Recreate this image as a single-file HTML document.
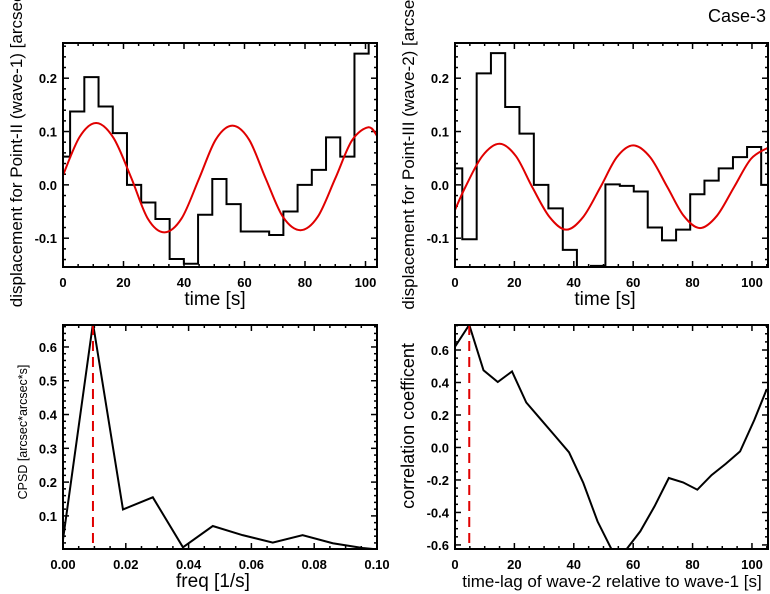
<!DOCTYPE html>
<html><head><meta charset="utf-8"><style>
html,body{margin:0;padding:0;background:#fff;}
svg{display:block;}
text{font-family:"Liberation Sans",sans-serif;}
.tk{font-size:13px;font-weight:bold;fill:#000;}
.ttl{fill:#000;}
</style></head><body>
<svg id="fig" width="770" height="594" viewBox="0 0 770 594" xmlns="http://www.w3.org/2000/svg">
<text x="766" y="22" text-anchor="end" style="font-size:18px">Case-3</text>
</svg>
<script>
// ---- Panel A data (Point-II, wave-1) ----
const aTimes = [0,4.7,9.4,14.1,18.8,23.5,28.2,32.9,37.6,42.3,47.0,51.7,56.4,61.1,65.8,70.5,75.2,79.9,84.6,89.3,94.0,98.7,103.4];
const aValues = [0.053,0.1375,0.202,0.147,0.097,0.0,-0.033,-0.064,-0.139,-0.148,-0.056,0.011,-0.036,-0.0875,-0.0875,-0.094,-0.05,0.0,0.028,0.089,0.053,0.246,0.28];
const aFitT = [0,5.5,11,16.7,22.5,28,33.5,39.2,45,50.5,56,61.5,67,72.7,78.5,84.2,90,95.5,101,104];
const aFitV = [0.018,0.09,0.116,0.088,0.014,-0.063,-0.089,-0.063,0.012,0.085,0.111,0.085,0.012,-0.06,-0.085,-0.06,0.012,0.083,0.108,0.09];
// ---- Panel B data (Point-III, wave-2) ----
const bTimes = [0,4.9,9.7,14.5,19.3,24.1,29.0,33.9,38.7,43.4,48.2,53.1,57.9,62.5,67.3,72.1,76.8,81.6,86.4,91.2,96.0,100.7,105.5];
const bValues = [0.031,-0.102,0.209,0.247,0.146,0.096,0.0,-0.044,-0.122,-0.16,-0.152,0.001,-0.002,-0.0125,-0.08,-0.104,-0.084,-0.0175,0.008,0.031,0.052,0.071,0.0];
const bFitT = [0,3.5,9.2,15,20.5,26,31.8,37.5,43.2,49,54.5,60,65.7,71.5,77,82.5,88.2,94,99.7,105.5];
const bFitV = [-0.047,-0.004,0.054,0.077,0.054,-0.004,-0.06,-0.084,-0.06,-0.004,0.052,0.074,0.052,-0.004,-0.058,-0.081,-0.058,-0.004,0.049,0.07];
// ---- Panel C data (CPSD) ----
const cFreq = [0,0.00954,0.0191,0.0286,0.0382,0.0477,0.0572,0.0668,0.0763,0.0859,0.0954,0.1];
const cPower = [0.03,0.67,0.119,0.155,0.007,0.07,0.043,0.021,0.043,0.019,0.005,0.001];
const cPeak = [0.00954];
// ---- Panel D data (cross-correlation) ----
const dLag = [0,4.8,9.6,14.4,19.2,24,28.8,33.6,38.4,43.2,48,52.8,57.6,62.4,67.2,72,76.8,81.6,86.4,91.2,96,100.8,105];
const dCorr = [0.62,0.755,0.475,0.403,0.468,0.277,0.175,0.073,-0.03,-0.218,-0.455,-0.63,-0.63,-0.516,-0.362,-0.188,-0.215,-0.26,-0.17,-0.1,-0.024,0.17,0.36];
const dPeak = [4.8];
// tick labels
const timeTicks = [0,20,40,60,80,100];
const dispTicks = [-0.1,0.0,0.1,0.2];
const freqTicks = [0,0.02,0.04,0.06,0.08,0.10];
const cpsdTicks = [0.1,0.2,0.3,0.4,0.5,0.6];
const corrTicks = [-0.6,-0.4,-0.2,0.0,0.2,0.4,0.6];

const NS='http://www.w3.org/2000/svg';
const svg=document.getElementById('fig');
function mk(tag,attrs,parent){const e=document.createElementNS(NS,tag);for(const k in attrs)e.setAttribute(k,attrs[k]);(parent||svg).appendChild(e);return e;}

function panel(cfg){
  const g=mk('g',{});
  
  
  const {x0,x1,y0,y1,xmin,xmax,ymin,ymax}=cfg;
  const sx=v=>x0+(v-xmin)/(xmax-xmin)*(x1-x0);
  const sy=v=>y1-(v-ymin)/(ymax-ymin)*(y1-y0);
  const cid='clip-'+cfg.name;
  const cp=mk('clipPath',{id:cid},g);mk('rect',{x:x0,y:y0,width:x1-x0,height:y1-y0},cp);
  for(let v=Math.ceil(xmin/cfg.xminor-1e-9)*cfg.xminor; v<=xmax+1e-9; v+=cfg.xminor){
    const X=sx(v);const major=Math.abs(v/cfg.xmajor-Math.round(v/cfg.xmajor))<1e-6;const L=major?6:3;
    const t1=mk('line',{x1:X,x2:X,y1:y1,y2:y1-L,stroke:'#000','stroke-width':1.5},g);
    
    
    mk('line',{x1:X,x2:X,y1:y0,y2:y0+L,stroke:'#000','stroke-width':1.5},g);
  }
  for(let v=Math.ceil(ymin/cfg.yminor-1e-9)*cfg.yminor; v<=ymax+1e-9; v+=cfg.yminor){
    const Y=sy(v);const major=Math.abs(v/cfg.ymajor-Math.round(v/cfg.ymajor))<1e-6;const L=major?6:3;
    const t2=mk('line',{x1:x0,x2:x0+L,y1:Y,y2:Y,stroke:'#000','stroke-width':1.5},g);
    
    
    mk('line',{x1:x1,x2:x1-L,y1:Y,y2:Y,stroke:'#000','stroke-width':1.5},g);
  }
  cfg.xticks.forEach(v=>{const t=mk('text',{x:sx(v),y:y1+20,'text-anchor':'middle',class:'tk'},g);t.textContent=cfg.xfmt(v);
    
    });
  cfg.yticks.forEach(v=>{const t=mk('text',{x:x0-6,y:sy(v)+5,'text-anchor':'end',class:'tk'},g);t.textContent=cfg.yfmt(v);
    
    });
  const xt=mk('text',{x:cfg.xtx,y:y1+38,'text-anchor':'middle',class:'ttl','font-size':cfg.xfs},g);xt.textContent=cfg.xtitle;
  
  
  const yt=mk('text',{x:0,y:0,'text-anchor':'middle',class:'ttl','font-size':cfg.yfs,transform:`translate(${cfg.ytx},${cfg.yty}) rotate(-90)`},g);yt.textContent=cfg.ytitle;
  
  
  const pg=mk('g',{'clip-path':`url(#${cid})`},g);
  cfg.draw(pg,sx,sy);
  const fr=mk('rect',{x:x0,y:y0,width:x1-x0,height:y1-y0,fill:'none',stroke:'#000','stroke-width':2},g);
  
  
}
function stepPath(T,V,sx,sy){
  let d='';
  for(let i=0;i<T.length;i++){
    const l=i===0?T[0]:(T[i-1]+T[i])/2, r=i===T.length-1?T[i]+(T[i]-T[i-1])/2:(T[i]+T[i+1])/2;
    d+=(i===0?'M':'L')+sx(l)+','+sy(V[i])+'L'+sx(r)+','+sy(V[i]);
  }
  return d;
}
function smoothPath(T,V,sx,sy){
  const P=T.map((t,i)=>[sx(t),sy(V[i])]);let d='M'+P[0];
  for(let i=0;i<P.length-1;i++){
    const p0=P[Math.max(0,i-1)],p1=P[i],p2=P[i+1],p3=P[Math.min(P.length-1,i+2)];
    const c1=[p1[0]+(p2[0]-p0[0])/6,p1[1]+(p2[1]-p0[1])/6],c2=[p2[0]-(p3[0]-p1[0])/6,p2[1]-(p3[1]-p1[1])/6];
    d+='C'+c1+' '+c2+' '+p2;
  }
  return d;
}
function linePath(T,V,sx,sy){return T.map((t,i)=>(i?'L':'M')+sx(t)+','+sy(V[i])).join('');}
const f1=v=>v.toFixed(1), f0=v=>String(v), f2=v=>v.toFixed(2);

panel({name:'panel-wave-1',x0:63,x1:377,y0:43,y1:267,xmin:0,xmax:103.8,ymin:-0.154,ymax:0.266,
  xminor:5,xmajor:20,yminor:0.02,ymajor:0.1,xticks:timeTicks,yticks:dispTicks,xfmt:f0,yfmt:f1,
  xtitle:'time [s]',xtx:215,xfs:19,ytitle:'displacement for Point-II (wave-1) [arcsec]',ytx:22,yty:148,yfs:17,
  draw:(g,sx,sy)=>{
    const s=mk('path',{d:stepPath(aTimes,aValues,sx,sy),fill:'none',stroke:'#000','stroke-width':2},g);
    
    
    const r=mk('path',{d:smoothPath(aFitT,aFitV,sx,sy),fill:'none',stroke:'#e00000','stroke-width':2},g);
    
    
  }});
panel({name:'panel-wave-2',x0:455,x1:768,y0:43,y1:267,xmin:0,xmax:105.4,ymin:-0.154,ymax:0.266,
  xminor:5,xmajor:20,yminor:0.02,ymajor:0.1,xticks:timeTicks,yticks:dispTicks,xfmt:f0,yfmt:f1,
  xtitle:'time [s]',xtx:605,xfs:19,ytitle:'displacement for Point-III (wave-2) [arcsec]',ytx:414,yty:148,yfs:17,
  draw:(g,sx,sy)=>{
    const s=mk('path',{d:stepPath(bTimes,bValues,sx,sy),fill:'none',stroke:'#000','stroke-width':2},g);
    
    
    const r=mk('path',{d:smoothPath(bFitT,bFitV,sx,sy),fill:'none',stroke:'#e00000','stroke-width':2},g);
    
    
  }});
panel({name:'panel-cpsd',x0:63,x1:377,y0:325,y1:549,xmin:0,xmax:0.1,ymin:0.002,ymax:0.665,
  xminor:0.005,xmajor:0.02,yminor:0.02,ymajor:0.1,xticks:freqTicks,yticks:cpsdTicks,xfmt:f2,yfmt:f1,
  xtitle:'freq [1/s]',xtx:213,xfs:19,ytitle:'CPSD [arcsec*arcsec*s]',ytx:27,yty:432,yfs:12.5,
  draw:(g,sx,sy)=>{
    const s=mk('path',{d:linePath(cFreq,cPower,sx,sy),fill:'none',stroke:'#000','stroke-width':2},g);
    
    
    const X=sx(cPeak[0]);
    const r=mk('line',{x1:X,x2:X,y1:325,y2:549,stroke:'#e00000','stroke-width':2,'stroke-dasharray':'10,6'},g);
    
    
  }});
panel({name:'panel-correlation',x0:455,x1:768,y0:325,y1:549,xmin:0,xmax:105.4,ymin:-0.625,ymax:0.754,
  xminor:5,xmajor:20,yminor:0.05,ymajor:0.2,xticks:timeTicks,yticks:corrTicks,xfmt:f0,yfmt:f1,
  xtitle:'time-lag of wave-2 relative to wave-1 [s]',xtx:612,xfs:17,ytitle:'correlation coefficent',ytx:414,yty:426,yfs:18,
  draw:(g,sx,sy)=>{
    const s=mk('path',{d:linePath(dLag,dCorr,sx,sy),fill:'none',stroke:'#000','stroke-width':2},g);
    
    
    const X=sx(dPeak[0]);
    const r=mk('line',{x1:X,x2:X,y1:325,y2:549,stroke:'#e00000','stroke-width':2,'stroke-dasharray':'10,6'},g);
    
    
  }});
</script>
</body></html>
